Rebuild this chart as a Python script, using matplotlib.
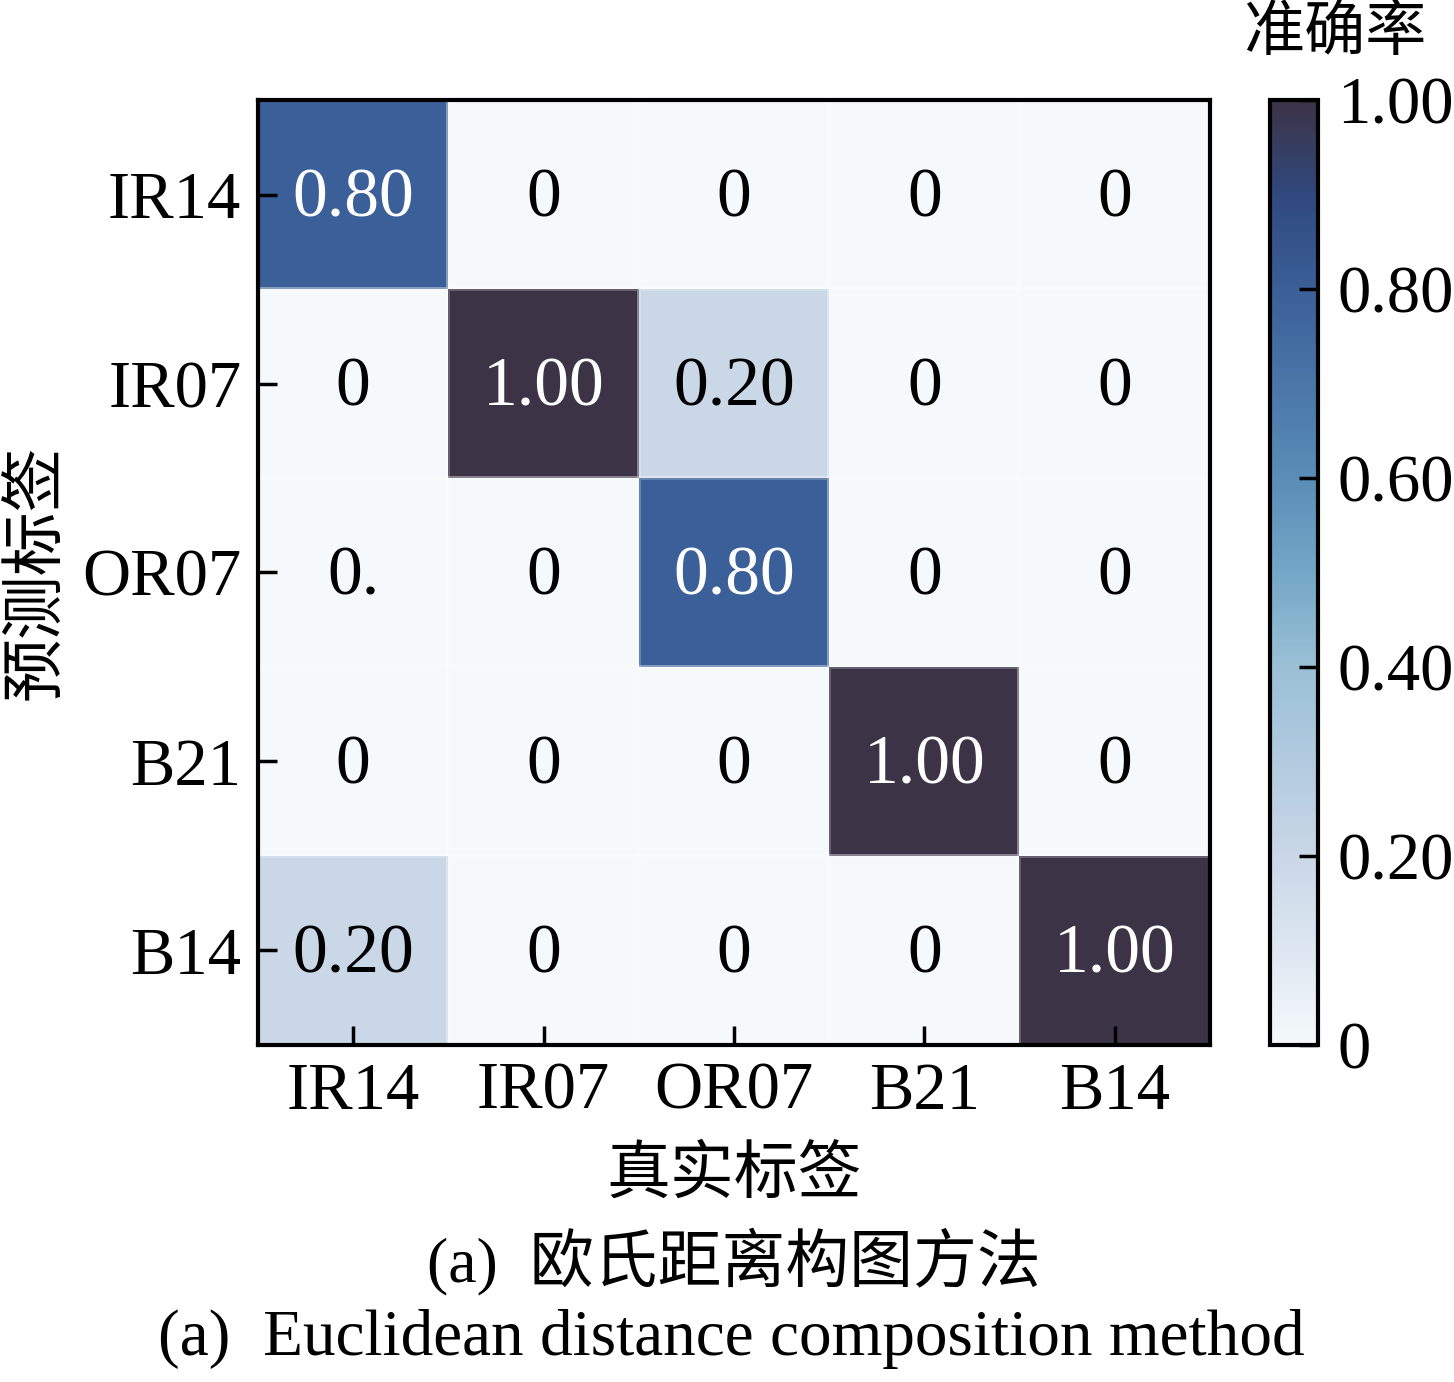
import matplotlib
matplotlib.use('Agg')
import matplotlib.pyplot as plt
import numpy as np
from matplotlib.colors import LinearSegmentedColormap

plt.rcParams['font.family'] = ['Liberation Serif', 'Noto Sans CJK SC']
plt.rcParams['axes.unicode_minus'] = False

# data
true_labels = ['IR14', 'IR07', 'OR07', 'B21', 'B14']
pred_labels = ['IR14', 'IR07', 'OR07', 'B21', 'B14']
acc = np.array([
    [0.80, 0.00, 0.00, 0.00, 0.00],
    [0.00, 1.00, 0.20, 0.00, 0.00],
    [0.00, 0.00, 0.80, 0.00, 0.00],
    [0.00, 0.00, 0.00, 1.00, 0.00],
    [0.20, 0.00, 0.00, 0.00, 1.00],
])
cell_text = [
    ['0.80', '0', '0', '0', '0'],
    ['0', '1.00', '0.20', '0', '0'],
    ['0.', '0', '0.80', '0', '0'],
    ['0', '0', '0', '1.00', '0'],
    ['0.20', '0', '0', '0', '1.00'],
]
cbar_ticks = [0, 0.2, 0.4, 0.6, 0.8, 1.0]
cbar_ticklabels = ['0', '0.20', '0.40', '0.60', '0.80', '1.00']

cmap = LinearSegmentedColormap.from_list('acc', [
    (0.00, '#f5f9fb'),
    (0.10, '#dde6f1'),
    (0.20, '#c9d7e7'),
    (0.30, '#b2cadf'),
    (0.40, '#9ac0d6'),
    (0.50, '#74a7c6'),
    (0.60, '#5a8db7'),
    (0.70, '#4a76a8'),
    (0.80, '#3b5f98'),
    (0.90, '#30497e'),
    (1.00, '#3c3347'),
])

fig = plt.figure(figsize=(14.54, 13.82), dpi=100)
ax = fig.add_axes([0.1774, 0.2439, 0.6547, 0.6837])
cax = fig.add_axes([0.8735, 0.2439, 0.033, 0.6837])

mesh = ax.pcolormesh(acc, cmap=cmap, vmin=0, vmax=1,
                     edgecolors=(1, 1, 1, 0.22), linewidth=1.5)
ax.set_xlim(0, 5)
ax.set_ylim(5, 0)

for i in range(5):
    for j in range(5):
        c = 'white' if acc[i, j] >= 0.5 else 'black'
        ax.text(j + 0.5, i + 0.53, cell_text[i][j], ha='center', va='center',
                fontsize=50, color=c)

ax.set_xticks(np.arange(5) + 0.5)
ax.set_xticklabels(true_labels)
ax.set_yticks(np.arange(5) + 0.5)
ax.set_yticklabels(pred_labels)
ax.tick_params(direction='in', length=14, width=2.5, labelsize=48, pad=12)
for s in ax.spines.values():
    s.set_linewidth(3)
ax.set_xlabel('真实标签', fontsize=46, labelpad=18)
ax.set_ylabel('预测标签', fontsize=46, labelpad=10)

cb = fig.colorbar(mesh, cax=cax)
cb.set_ticks(cbar_ticks)
cb.set_ticklabels(cbar_ticklabels)
cax.tick_params(direction='in', length=14, width=2.5, labelsize=48, pad=14)
cb.outline.set_linewidth(3)
fig.text(0.918, 0.975, '准确率', ha='center', va='center', fontsize=44)

fig.text(0.505, 0.087, '(a)  欧氏距离构图方法', ha='center', va='center', fontsize=46)
fig.text(0.503, 0.031, '(a)  Euclidean distance composition method',
         ha='center', va='center', fontsize=47)

fig.savefig('out.png', dpi=100)
